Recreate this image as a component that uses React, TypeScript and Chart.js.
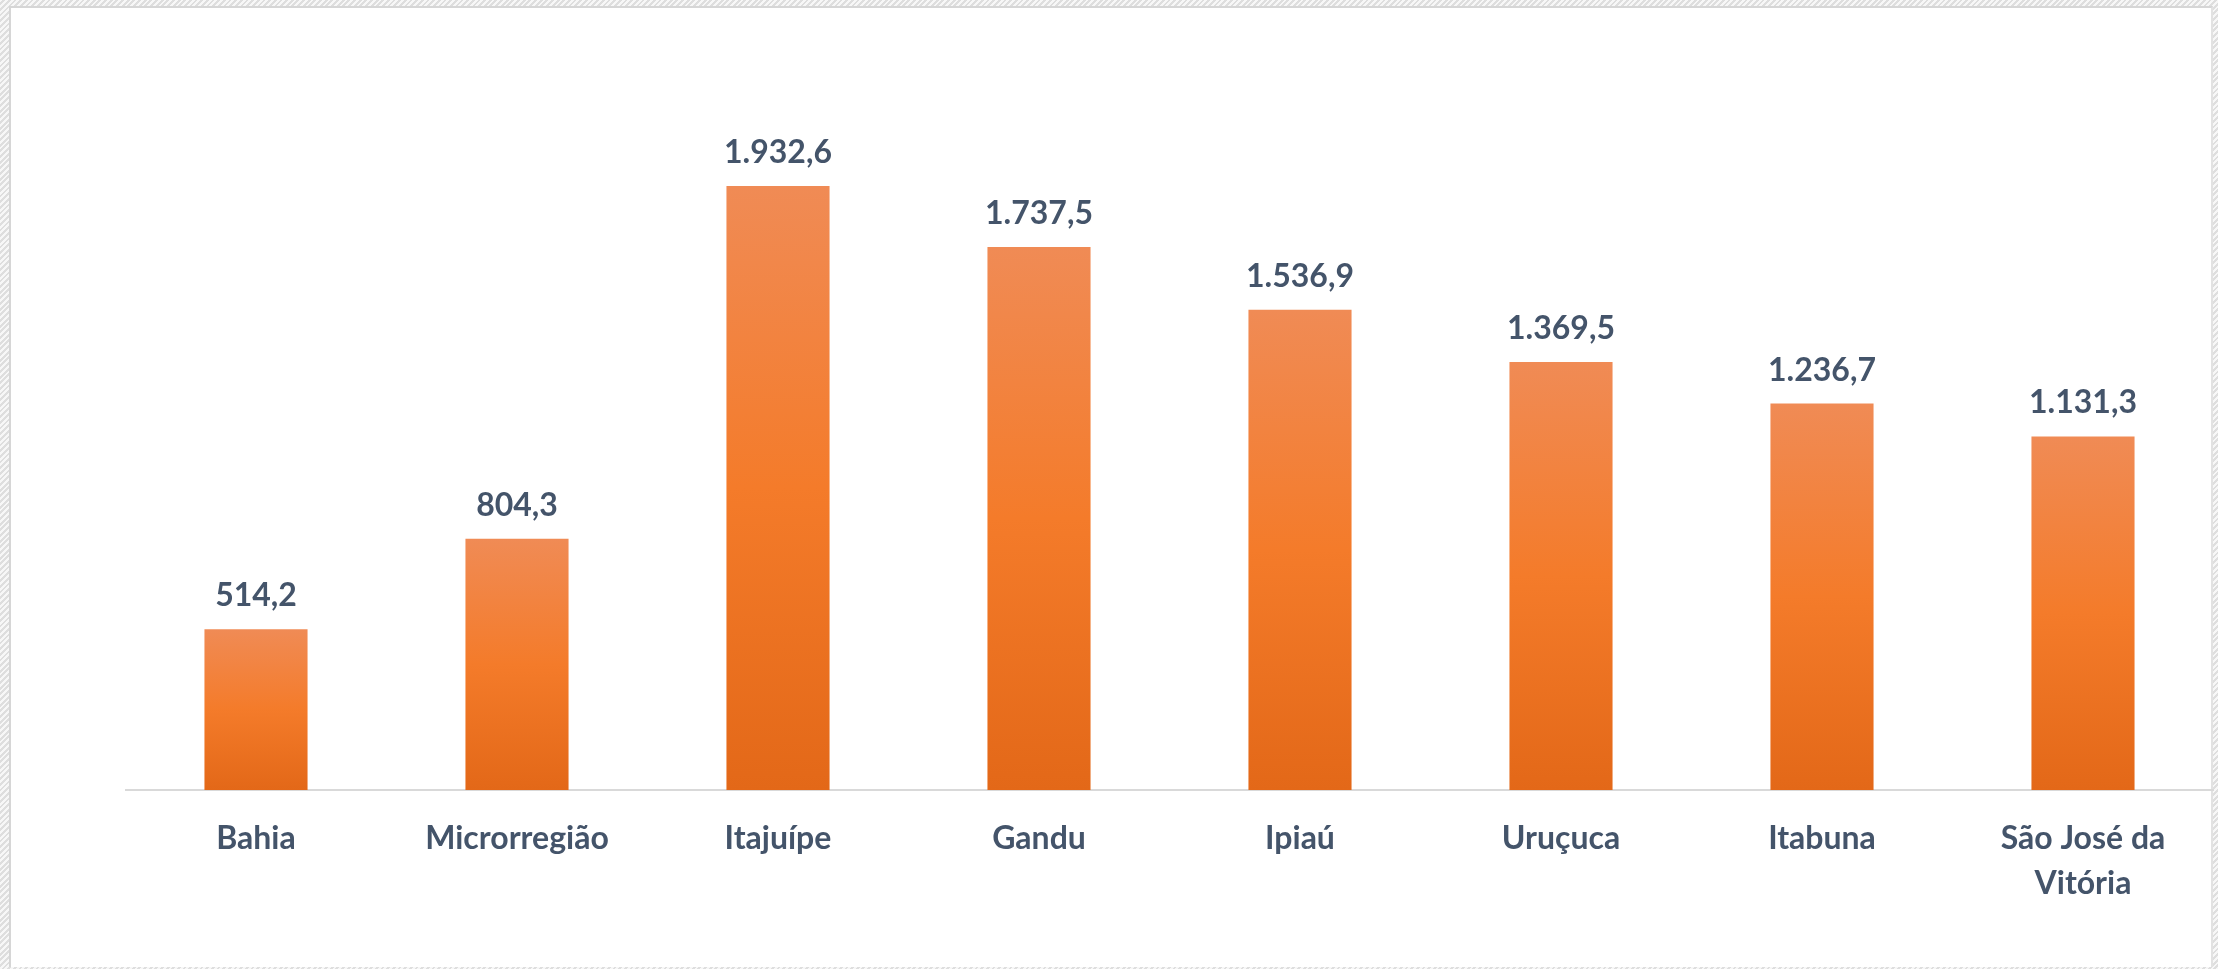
import React, { useEffect, useRef } from "react";
import { Chart, registerables } from "chart.js";

Chart.register(...registerables);

const categories: (string | string[])[] = [
  "Bahia",
  "Microrregião",
  "Itajuípe",
  "Gandu",
  "Ipiaú",
  "Uruçuca",
  "Itabuna",
  ["São José da", "Vitória"],
];
const values: number[] = [514.2, 804.3, 1932.6, 1737.5, 1536.9, 1369.5, 1236.7, 1131.3];

const FONT = "Lato, 'Open Sans', sans-serif";
const TEXT = "#44546A";

const fmt = (v: number) =>
  v.toLocaleString("pt-BR", { minimumFractionDigits: 1, maximumFractionDigits: 1 });

const valueLabels = {
  id: "valueLabels",
  afterDatasetsDraw(chart: any) {
    const ctx = chart.ctx;
    const meta = chart.getDatasetMeta(0);
    ctx.save();
    ctx.font = `700 32px ${FONT}`;
    ctx.fillStyle = TEXT;
    ctx.textAlign = "center";
    ctx.textBaseline = "alphabetic";
    meta.data.forEach((bar: any, i: number) => {
      ctx.fillText(fmt(values[i]), bar.x, bar.y - 23);
    });
    ctx.restore();
  },
};

export default function App() {
  const ref = useRef<HTMLCanvasElement>(null);
  useEffect(() => {
    document.body.style.margin = "0";
    const chart = new Chart(ref.current!, {
      type: "bar",
      data: {
        labels: categories,
        datasets: [
          {
            data: values,
            categoryPercentage: 1,
            barPercentage: 0.395,
            borderWidth: 0,
            backgroundColor: (c: any) => {
              const ch = c.chart;
              const y = ch.scales?.y;
              if (!y || c.raw == null) return "#F47B2A";
              const top = y.getPixelForValue(c.raw);
              const bot = y.getPixelForValue(0);
              if (!isFinite(top) || !isFinite(bot) || top === bot) return "#F47B2A";
              const g = ch.ctx.createLinearGradient(0, top, 0, bot);
              g.addColorStop(0, "#F08B55");
              g.addColorStop(0.5, "#F47B2A");
              g.addColorStop(1, "#E36818");
              return g;
            },
          },
        ],
      },
      options: {
        animation: false,
        responsive: false,
        devicePixelRatio: 1,
        layout: { padding: { left: 125.5, right: 4.5, top: 40, bottom: 0 } },
        plugins: { legend: { display: false }, tooltip: { enabled: false } },
        scales: {
          y: { display: false, min: 0, max: 2400 },
          x: {
            grid: { display: false, drawTicks: false },
            border: { display: true, color: "#D9D9D9", width: 2 },
            ticks: {
              color: TEXT,
              font: { family: FONT, size: 32, weight: "bold", lineHeight: 1.4 },
              padding: 26,
              maxRotation: 0,
              autoSkip: false,
            },
            afterFit: (scale: any) => {
              scale.height = 179;
            },
          },
        },
      },
      plugins: [valueLabels],
    } as any);
    return () => chart.destroy();
  }, []);

  return (
    <div
      style={{
        position: "fixed",
        left: 0,
        top: 0,
        width: 2218,
        height: 969,
        overflow: "hidden",
        background:
          "repeating-linear-gradient(135deg, #f7f7f7 0px, #f7f7f7 2px, #dedede 2px, #dedede 4px)",
      }}
    >
      <div
        style={{
          position: "absolute",
          left: 9,
          top: 6,
          width: 2204,
          height: 961,
          background: "#ffffff",
          boxSizing: "border-box",
          borderTop: "2px solid #d6d6d6",
          borderLeft: "2px solid #d6d6d6",
          borderRight: "2px solid #e2e2e2",
        }}
      />
      <canvas
        ref={ref}
        width={2218}
        height={969}
        style={{ position: "absolute", left: 0, top: 0, width: 2218, height: 969 }}
      />
    </div>
  );
}
